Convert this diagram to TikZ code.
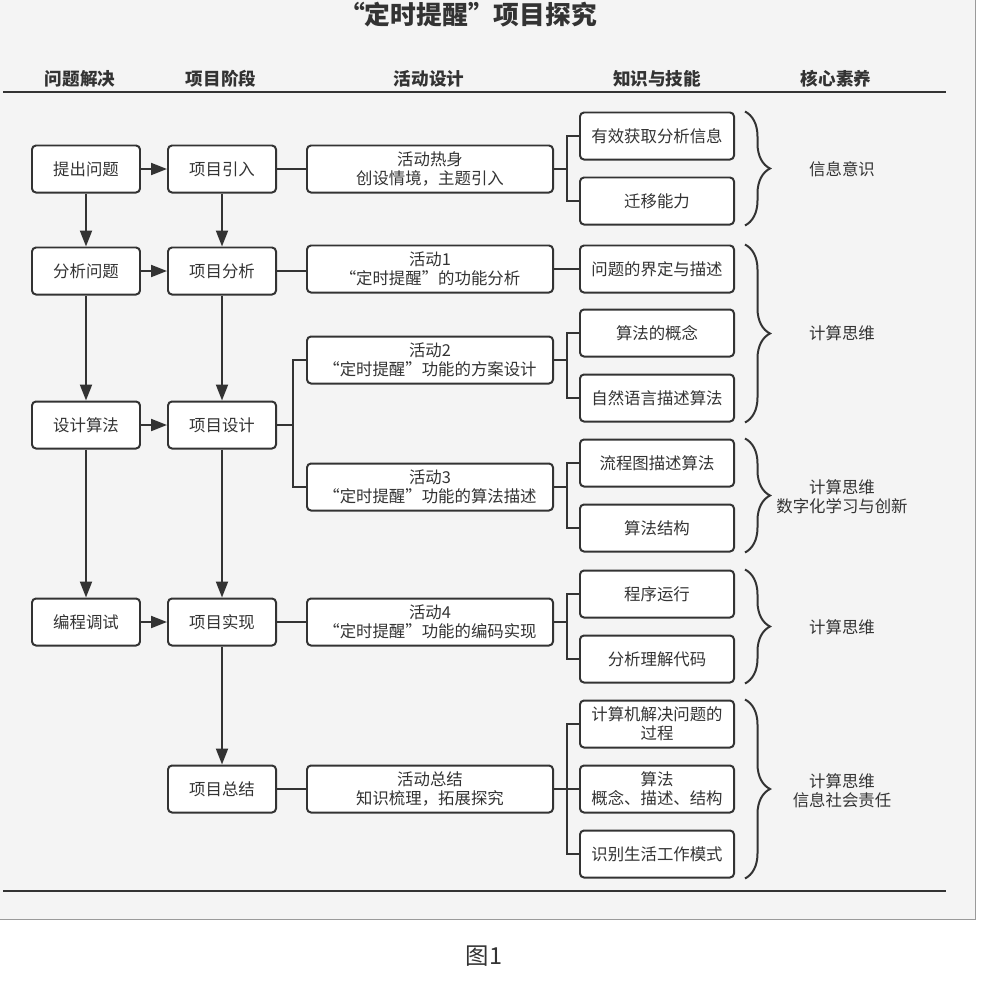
\documentclass[tikz,border=0pt]{standalone}
\usepackage{fontspec}
\setmainfont{Noto Sans CJK SC}
\usetikzlibrary{arrows.meta,calc,positioning,decorations.pathreplacing}
\definecolor{inkgray}{HTML}{333333}
\definecolor{panelgray}{HTML}{F4F4F4}
\definecolor{framegray}{HTML}{9A9A9A}

\begin{document}
\begin{tikzpicture}[x=0.03cm,y=-0.03cm,>={Triangle[length=0.48cm,width=0.36cm]},
  every node/.style={text=inkgray,font=\fontsize{14}{16.5}\selectfont},
  box/.style={draw=inkgray,line width=1.7pt,fill=white,rounded corners=0.12cm,minimum height=1.41cm,align=center,inner sep=1pt},
  stagebox/.style={box,minimum width=3.24cm},
  actbox/.style={box,minimum width=7.38cm},
  skillbox/.style={box,minimum width=4.62cm},
  link/.style={draw=inkgray,line width=1.7pt},
  head/.style={font=\fontsize{15}{18}\selectfont\bfseries},
  curly/.style={draw=inkgray,line width=1.7pt,decorate,decoration={brace,amplitude=0.75cm}}]
  \useasboundingbox[fill=white] (0,0) rectangle (1000,1001);
  \fill[panelgray] (0,0) rectangle (975,919);
  \draw[framegray,line width=0.8pt] (975,0) -- (975,919) -- (0,919);

  % title and column heads
  \node[font=\fontsize{22}{25}\selectfont\bfseries] (title) at (468,15) {“定时提醒”项目探究};
  \node[head] (h1) at (80,79) {问题解决};
  \node[head] (h2) at (221,79) {项目阶段};
  \node[head] (h3) at (429,79) {活动设计};
  \node[head] (h4) at (657,79) {知识与技能};
  \node[head] (h5) at (836,79) {核心素养};
  \draw[inkgray,line width=2.5pt] (3,92) -- (946,92);
  \draw[inkgray,line width=2.5pt] (3,891) -- (946,891);

  % problem solving
  \node[stagebox] (p1) at (86,169) {提出问题};
  \node[stagebox] (p2) at (86,271) {分析问题};
  \node[stagebox] (p3) at (86,425) {设计算法};
  \node[stagebox] (p4) at (86,622) {编程调试};

  % project stages
  \node[stagebox] (s1) at (222,169) {项目引入};
  \node[stagebox] (s2) at (222,271) {项目分析};
  \node[stagebox] (s3) at (222,425) {项目设计};
  \node[stagebox] (s4) at (222,622) {项目实现};
  \node[stagebox] (s5) at (222,789) {项目总结};

  % activities
  \node[actbox] (a0) at (430,169) {活动热身\\创设情境，主题引入};
  \node[actbox] (a1) at (430,269) {活动1\\“定时提醒”的功能分析};
  \node[actbox] (a2) at (430,360) {活动2\\“定时提醒”功能的方案设计};
  \node[actbox] (a3) at (430,487) {活动3\\“定时提醒”功能的算法描述};
  \node[actbox] (a4) at (430,622) {活动4\\“定时提醒”功能的编码实现};
  \node[actbox] (a5) at (430,789) {活动总结\\知识梳理，拓展探究};

  % knowledge and skills
  \node[skillbox] (k1) at (657,136) {有效获取分析信息};
  \node[skillbox] (k2) at (657,201) {迁移能力};
  \node[skillbox] (k3) at (657,269) {问题的界定与描述};
  \node[skillbox] (k4) at (657,333) {算法的概念};
  \node[skillbox] (k5) at (657,398) {自然语言描述算法};
  \node[skillbox] (k6) at (657,463) {流程图描述算法};
  \node[skillbox] (k7) at (657,528) {算法结构};
  \node[skillbox] (k8) at (657,594) {程序运行};
  \node[skillbox] (k9) at (657,659) {分析理解代码};
  \node[skillbox] (k10) at (657,724) {计算机解决问题的\\过程};
  \node[skillbox] (k11) at (657,789) {算法\\概念、描述、结构};
  \node[skillbox] (k12) at (657,854) {识别生活工作模式};

  % core literacy
  \node[align=center] (c1) at (842,169) {信息意识};
  \node[align=center] (c2) at (842,333) {计算思维};
  \node[align=center] (c3) at (842,497) {计算思维\\数字化学习与创新};
  \node[align=center] (c4) at (842,627) {计算思维};
  \node[align=center] (c5) at (842,791) {计算思维\\信息社会责任};

  % arrows
  \foreach \i in {1,2,3,4} \draw[link,->] (p\i) -- (s\i);
  \draw[link,->] (p1) -- (p2);
  \draw[link,->] (p2) -- (p3);
  \draw[link,->] (p3) -- (p4);
  \draw[link,->] (s1) -- (s2);
  \draw[link,->] (s2) -- (s3);
  \draw[link,->] (s3) -- (s4);
  \draw[link,->] (s4) -- (s5);

  % stage to activity
  \draw[link] (s1) -- (a0);
  \draw[link] (s2.east) -- (s2.east -| a1.west);
  \draw[link] (s3.east) -- ++(16,0) coordinate (j3);
  \draw[link] (a2.west) -| (j3) |- (a3.west);
  \draw[link] (s4) -- (a4);
  \draw[link] (s5) -- (a5);

  % activity to skills
  \draw[link] (a0.east) -- ++(13,0) coordinate (b0);
  \draw[link] (k1.west) -| (b0) |- (k2.west);
  \draw[link] (a1) -- (k3);
  \draw[link] (a2.east) -- ++(13,0) coordinate (b2);
  \draw[link] (k4.west) -| (b2) |- (k5.west);
  \draw[link] (a3.east) -- ++(13,0) coordinate (b3);
  \draw[link] (k6.west) -| (b3) |- (k7.west);
  \draw[link] (a4.east) -- ++(13,0) coordinate (b4);
  \draw[link] (k8.west) -| (b4) |- (k9.west);
  \draw[link] (a5) -- (k11);
  \draw[link] (k10.west) -| ($(a5.east)+(13,0)$) |- (k12.west);

  % braces
  \draw[curly] ([xshift=0.3cm]k1.north east) -- ([xshift=0.3cm]k2.south east);
  \draw[curly] ([xshift=0.3cm]k3.north east) -- ([xshift=0.3cm]k5.south east);
  \draw[curly] ([xshift=0.3cm]k6.north east) -- ([xshift=0.3cm]k7.south east);
  \draw[curly] ([xshift=0.3cm]k8.north east) -- ([xshift=0.3cm]k9.south east);
  \draw[curly] ([xshift=0.3cm]k10.north east) -- ([xshift=0.3cm]k12.south east);

  \node[font=\fontsize{20}{24}\selectfont] (fig) at (484,956) {图1};
\end{tikzpicture}
\end{document}
